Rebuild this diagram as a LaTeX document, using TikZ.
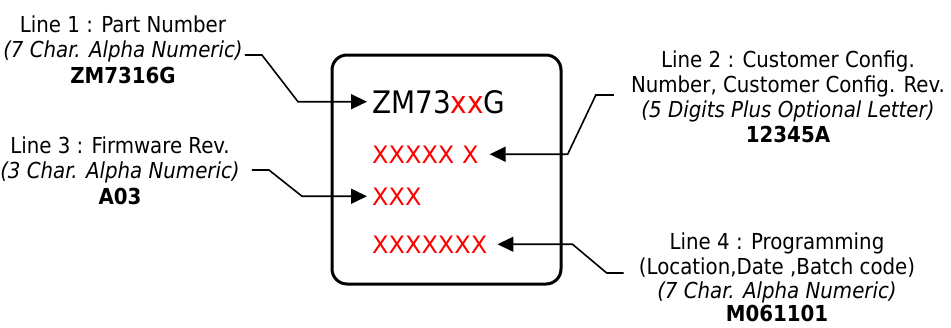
\documentclass[tikz,border=0pt]{standalone}
\usepackage{fontspec}
\IfFontExistsTF{DejaVu Sans Condensed}
  {\setmainfont{DejaVu Sans Condensed}}
  {\setmainfont[FakeStretch=0.9]{DejaVu Sans}}
\newfontfamily\rowfont{DejaVu Sans}
\usetikzlibrary{arrows.meta,calc}

\begin{document}
\begin{tikzpicture}[x=1pt,y=-1pt,
    lbl/.style={anchor=base,inner sep=0pt,font=\fontsize{22}{25}\selectfont},
    fmt/.style={lbl,font=\fontsize{22}{25}\selectfont\itshape},
    val/.style={lbl,font=\fontsize{22}{25}\selectfont\bfseries},
    chiprow/.style={anchor=base west,inner xsep=5pt,inner ysep=0pt,text=red,
      font=\rowfont\fontsize{24}{28}\selectfont},
    conn/.style={line width=1.6pt,-{Triangle[length=16pt,width=15pt]}}]
  \useasboundingbox (0,0) rectangle (951,327);

  \def \Labels {
    pnhead/123/32/lbl/{Line 1 : Part Number},
    pnfmt/123/57/fmt/{(7 Char. Alpha Numeric)},
    pnval/123/83/val/{ZM7316G},
    fwhead/120/153/lbl/{Line 3 : Firmware Rev.},
    fwfmt/120/178/fmt/{(3 Char. Alpha Numeric)},
    fwval/120/204/val/{A03},
    cfghead/788/67/lbl/{Line 2 : Customer Config.},
    cfghead2/788/92/lbl/{Number, Customer Config. Rev.},
    cfgfmt/788/117/fmt/{(5 Digits Plus Optional Letter)},
    cfgval/788/142/val/{12345A},
    proghead/777/249/lbl/{Line 4 : Programming},
    proghead2/777/274/lbl/{(Location,Date ,Batch code)},
    progfmt/777/298/fmt/{(7 Char. Alpha Numeric)},
    progval/777/321/val/{M061101}}

  \foreach \name / \x / \y / \kind / \txt in \Labels {
    \node[\kind] (\name) at (\x, \y) {\txt};
  }

  % the marked part
  \node[draw,line width=3pt,rounded corners=15pt,minimum width=229pt,
    minimum height=229pt,inner sep=0pt] (chip) at (446.5,169.5) {};
  \node[chiprow,text=black,font=\fontsize{31}{34}\selectfont] (rowone) at (367,113)
    {ZM73{\color{red}xx}G};
  \node[chiprow] (rowtwo) at (367,163) {XXXXX X};
  \node[chiprow] (rowthree) at (367,205) {XXX};
  \node[chiprow] (rowfour) at (367,253) {XXXXXXX};

  \draw[conn] ([shift={(2,-2)}]pnfmt.base east) -- ++(17,0)
    -- ($(rowone.west)+(-69,0)$) -- (rowone.west);
  \draw[conn] ([shift={(12,-8)}]fwfmt.base east) -- ++(17,0)
    -- ($(rowthree.west)+(-65,0)$) -- (rowthree.west);
  \draw[conn] ([shift={(-17,3)}]cfghead2.base west) -- ++(-18,0)
    -- ($(rowtwo.east)+(84,0)$) -- ([xshift=6pt]rowtwo.east);
  \draw[conn] ([shift={(-15,-1)}]proghead2.base west) -- ++(-17,0)
    -- ($(rowfour.east)+(80,0)$) -- ([xshift=5pt]rowfour.east);
\end{tikzpicture}
\end{document}
